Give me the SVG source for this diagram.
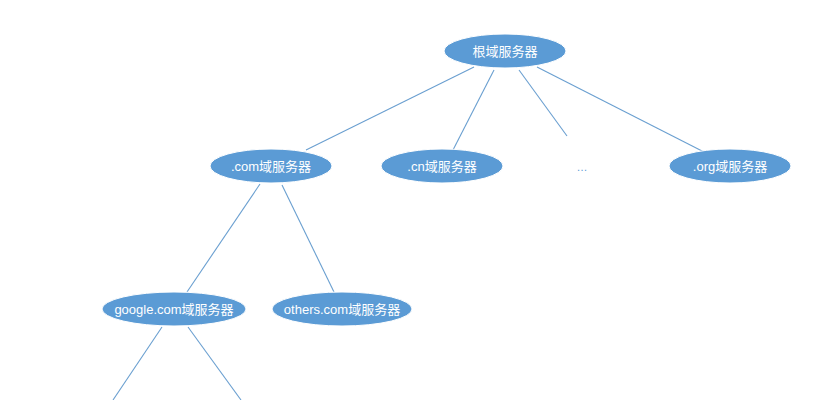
<svg xmlns="http://www.w3.org/2000/svg" width="819" height="400" viewBox="0 0 819 400">
<style>
.n{fill:#5b9bd5;stroke:#ffffff;stroke-width:1}
.t{fill:#ffffff;font-family:"Liberation Sans","Noto Sans CJK SC",sans-serif;font-size:13px;text-anchor:middle;dominant-baseline:central}
.e{stroke:#6a9fd0;stroke-width:1.1;fill:none}
</style>
<rect width="819" height="400" fill="#ffffff"/>
<g id="connectors">
<line class="e" x1="474" y1="67" x2="306" y2="150"/>
<line class="e" x1="494" y1="70" x2="453" y2="150"/>
<line class="e" x1="519" y1="70" x2="567" y2="136"/>
<line class="e" x1="537" y1="67" x2="704" y2="152"/>
<line class="e" x1="260" y1="184" x2="187" y2="292"/>
<line class="e" x1="282" y1="185" x2="334" y2="292"/>
<line class="e" x1="162" y1="327" x2="113" y2="400"/>
<line class="e" x1="188" y1="327" x2="241" y2="400"/>
</g>
<g id="root"><ellipse class="n" cx="505" cy="51" rx="61" ry="17"/><text class="t" x="505" y="51">根域服务器</text></g>
<g id="com"><ellipse class="n" cx="271" cy="166" rx="61" ry="17"/><text class="t" x="271" y="166">.com域服务器</text></g>
<g id="cn"><ellipse class="n" cx="442" cy="166" rx="61" ry="17"/><text class="t" x="442" y="166">.cn域服务器</text></g>
<g id="dots"><text x="582" y="167" style="fill:#5b9bd5;font-family:'Liberation Sans',sans-serif;font-size:11px;text-anchor:middle;dominant-baseline:central">…</text></g>
<g id="org"><ellipse class="n" cx="730" cy="166" rx="61" ry="17"/><text class="t" x="730" y="166">.org域服务器</text></g>
<g id="google"><ellipse class="n" cx="174" cy="309" rx="72" ry="17"/><text class="t" x="174" y="309">google.com域服务器</text></g>
<g id="others"><ellipse class="n" cx="342" cy="309" rx="70" ry="17"/><text class="t" x="342" y="309">others.com域服务器</text></g>
</svg>
